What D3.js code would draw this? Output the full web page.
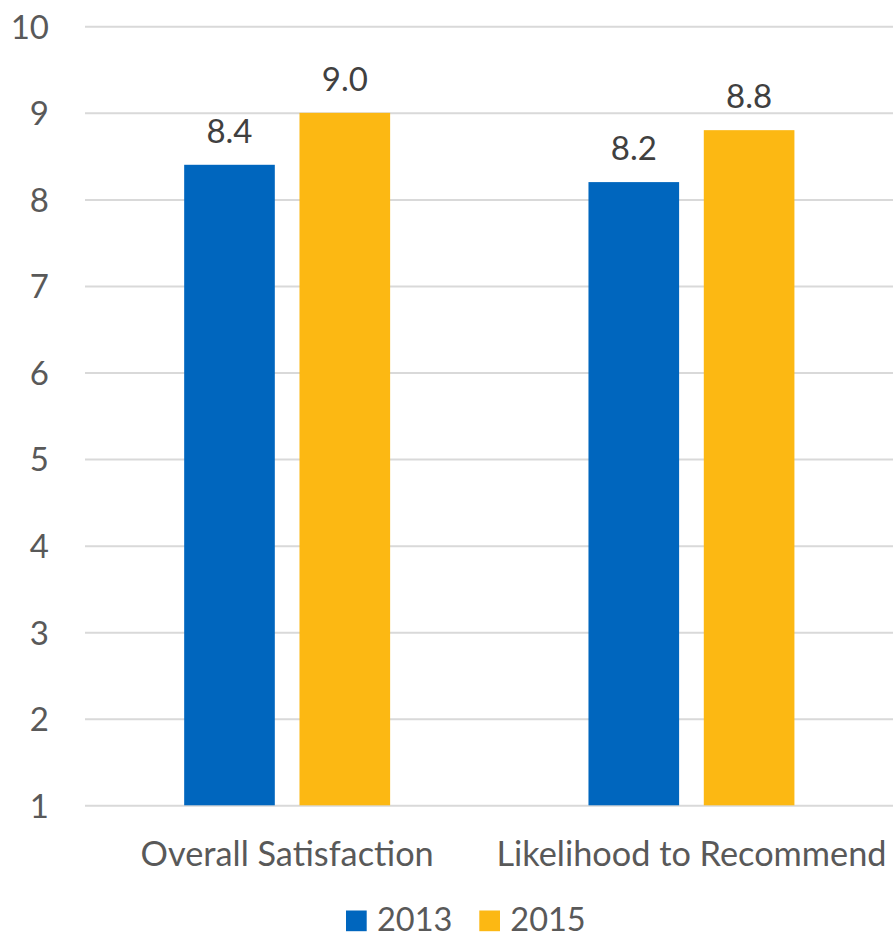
<!DOCTYPE html>
<html><head><meta charset="utf-8">
<script src="https://cdn.jsdelivr.net/npm/d3@7"></script>
<style>
html,body{margin:0;padding:0;background:#fff;}
svg{display:block;}
svg text{font-family:Lato, "Open Sans", sans-serif;}
</style></head>
<body>
<svg id="chart" width="893" height="937"></svg>
<script>
const categories = ["Overall Satisfaction", "Likelihood to Recommend"];
const seriesNames = ["2013", "2015"];
const values2013 = [8.4, 8.2];
const values2015 = [9.0, 8.8];
const yTicks = [1,2,3,4,5,6,7,8,9,10];
const colors = ["#0066BE", "#FCB813"];

const FONT = "Lato, 'Open Sans', sans-serif";
const seriesValues = [values2013, values2015];
const svg = d3.select("#chart");
const mLeft = 85, mRight = 893.6, mTop = 26.3, mBottom = 805.3;

const y = d3.scaleLinear().domain([1, 10]).range([mBottom, mTop]);
const x0 = d3.scaleBand().domain(categories).range([mLeft, mRight]).paddingInner(0).paddingOuter(0);
const x1 = d3.scaleBand().domain(seriesNames).range([0, x0.bandwidth()]).paddingInner(0.214).paddingOuter(0.86);

// gridlines + y tick labels
const yAxis = d3.axisLeft(y).tickValues(yTicks).tickSize(-(mRight - mLeft)).tickFormat(d3.format("d")).tickPadding(36);
const gy = svg.append("g").attr("transform", `translate(${mLeft},0)`).call(yAxis)
  .attr("font-family", FONT).attr("font-size", 33);
gy.select(".domain").remove();
gy.selectAll(".tick line").attr("stroke", "#D9D9D9").attr("stroke-width", 2);
gy.selectAll(".tick text").attr("fill", "#595959").attr("x", -36).attr("dy", "0.36em").attr("text-anchor", "end");

// bars
const groups = svg.append("g").selectAll("g").data(categories).join("g")
  .attr("transform", d => `translate(${x0(d)},0)`);
seriesNames.forEach((s, si) => {
  groups.append("rect")
    .attr("x", x1(s))
    .attr("width", x1.bandwidth())
    .attr("y", (d, i) => y(seriesValues[si][i]))
    .attr("height", (d, i) => y(1) - y(seriesValues[si][i]))
    .attr("fill", colors[si]);
  groups.append("text")
    .attr("x", x1(s) + x1.bandwidth() / 2)
    .attr("y", (d, i) => y(seriesValues[si][i]) - 22)
    .attr("text-anchor", "middle")
    .attr("fill", "#404040")
    .attr("font-family", FONT)
    .attr("font-size", 33)
    .text((d, i) => d3.format(".1f")(seriesValues[si][i]));
});

// x axis labels
const xAxis = d3.axisBottom(x0).tickSize(0).tickPadding(0);
const gx = svg.append("g").attr("transform", `translate(0,${mBottom})`).call(xAxis)
  .attr("font-family", FONT).attr("font-size", 34.3);
gx.select(".domain").remove();
gx.selectAll(".tick text").attr("fill", "#595959").attr("dy", null).attr("y", 60.5);

// legend
const legend = svg.append("g");
const legendX = [346, 479.3];
seriesNames.forEach((s, i) => {
  const g = legend.append("g").attr("transform", `translate(${legendX[i]},910.5)`);
  g.append("rect").attr("width", 20.7).attr("height", 20.7).attr("fill", colors[i]);
  g.append("text").attr("x", 31).attr("y", 20.5).attr("fill", "#595959")
    .attr("font-family", FONT).attr("font-size", 32.5).text(s);
});
</script>
</body></html>
